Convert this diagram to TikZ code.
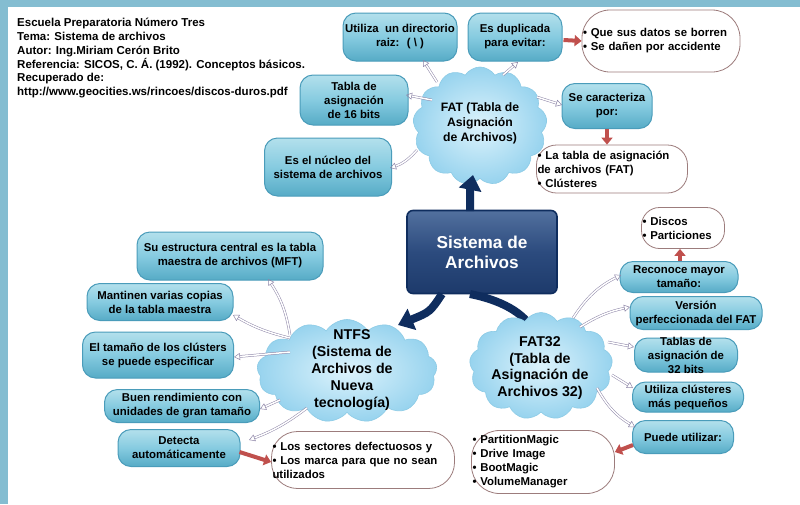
\documentclass[tikz,border=0pt]{standalone}
\usepackage{fontspec}
\setmainfont{Liberation Sans}
\usetikzlibrary{shapes.symbols,arrows.meta,calc}
\definecolor{bandblue}{HTML}{84BDD1}
\definecolor{wmark}{HTML}{F4F8FA}
\definecolor{boxtop}{HTML}{B3E0EC}
\definecolor{boxmid}{HTML}{86CBE0}
\definecolor{boxbot}{HTML}{56ABC6}
\definecolor{boxline}{HTML}{4A9CBA}
\definecolor{cloudin}{HTML}{DDF3FC}
\definecolor{cloudout}{HTML}{97D3EE}
\definecolor{cloudline}{HTML}{8CCBE6}
\definecolor{listline}{HTML}{9C7C7C}
\definecolor{connc}{HTML}{8E86A8}
\definecolor{redarr}{HTML}{C0504D}
\definecolor{navyarr}{HTML}{0F2D5E}
\definecolor{navytop}{HTML}{52709E}
\definecolor{navymid}{HTML}{2C4B7E}
\definecolor{navybot}{HTML}{1D3A6B}
\newcommand\fnthdr{\fontsize{11.5}{13.8}\selectfont\bfseries}
\newcommand\fntbox{\fontsize{11.4}{14}\selectfont\bfseries}
\newcommand\fntcloudA{\fontsize{12.2}{15}\selectfont\bfseries}
\newcommand\fntcloudB{\fontsize{14.2}{16.8}\selectfont\bfseries}
\newcommand\fntbig{\fontsize{17.2}{20}\selectfont\bfseries}
\newcommand\mybul{•\ }
\begin{document}
\begin{tikzpicture}[x=1pt,y=-1pt,
  bluebox/.style={rounded corners=13pt, draw=boxline, line width=1pt,
    top color=boxtop, bottom color=boxbot, middle color=boxmid,
    align=center, font=\fntbox, inner sep=1pt},
  boxtxt/.style={align=center, font=\fntbox, inner sep=0pt},
  listbox/.style={rounded corners=18pt, draw=listline, line width=0.8pt,
    fill=white, align=left, font=\fntbox, inner xsep=1pt, inner ysep=2pt},
  cloudst/.style={cloud, cloud puffs=13, cloud puff arc=115,
    draw=cloudline, line width=0.6pt, inner color=cloudin, outer color=cloudout},
  cloudtxt/.style={align=center, inner sep=0pt},
  sisst/.style={rounded corners=6pt, draw=navyarr, line width=1.6pt,
    top color=navytop, bottom color=navybot, middle color=navymid,
    text=white, font=\fntbig, align=center, minimum width=150, minimum height=83},
  conn/.style={draw=connc, line width=0.5pt, double=white, double distance=1.5pt,
    -{Triangle[open,length=6pt,width=7pt]}},
  redconn/.style={draw=redarr, line width=4pt, -{Triangle[length=7pt,width=11pt]}},
  navyconn/.style={draw=navyarr, line width=8pt, -{Triangle[length=15pt,width=22pt]}}
]
\useasboundingbox (0,0) rectangle (800,504);
\fill[white] (0,0) rectangle (800,504);
% faint watermark
\draw[wmark, line width=22pt] (40,520) arc[start angle=180, end angle=60, radius=150];
\draw[wmark, line width=14pt] (110,520) arc[start angle=180, end angle=70, radius=90];
\fill[bandblue] (0,0) rectangle (800,7);
\fill[bandblue] (0,0) rectangle (8,504);

% header
\node[anchor=north west, align=left, font=\fnthdr, inner sep=0pt] (hdr) at (17,18)
{Escuela Preparatoria Número Tres\\
Tema: Sistema de archivos\\
Autor: Ing.Miriam Cerón Brito\\
Referencia: SICOS, C. Á. (1992). Conceptos básicos.\\
Recuperado de:\\
http://www.geocities.ws/rincoes/discos-duros.pdf};

% central box
\node[sisst] (sis) at (482,252) {Sistema de\\Archivos};

% navy arrow under the FAT32 cloud
\draw[navyconn] ($(sis)+(-12,42)$) .. controls ($(sis)+(18,48)$) and ($(sis)+(42,60)$) .. ($(sis)+(58,92)$);

% clouds
\node[cloudst, minimum width=134, minimum height=118] (fatc) at (480,126) {};
\node[cloudst, minimum width=180, minimum height=103] (ntfsc) at (347,371) {};
\node[cloudst, minimum width=143, minimum height=107] (fat32c) at (541,366) {};
\node[cloudtxt, font=\fntcloudA] (fatt) at (480,123) {FAT (Tabla de\\Asignación\\de Archivos)};
\node[cloudtxt, font=\fntcloudB] (ntfst) at (352,370) {NTFS\\(Sistema de\\Archivos de\\Nueva\\tecnología)};
\node[cloudtxt, font=\fntcloudB] (fat32t) at (540,368) {FAT32\\(Tabla de\\Asignación de\\Archivos 32)};

% navy arrows
\coordinate (ntip) at (398,325);
\draw[navyconn] ($(sis)+(-12,-41)$) .. controls ($(sis)+(-12,-62)$) .. ($(fatc)+(-7,49)$);
\draw[navyconn] ($(sis)+(-40,42)$) .. controls ($(sis)+(-52,60)$) .. (ntip);

% FAT boxes
\node[bluebox, minimum width=114, minimum height=48] (util) at (400,37) {Utiliza \ un directorio\\raiz: \ ( \textbackslash\ )};
\node[bluebox, minimum width=94, minimum height=48] (dup) at (515,37) {Es duplicada\\para evitar:};
\node[listbox, rounded corners=28pt, text width=156, minimum height=62] (dupl) at (661,41) {\mybul Que sus datos se borren\\\mybul Se dañen por accidente};
\node[bluebox, minimum width=108, minimum height=50] (tab16) at (354,100) {};
\node[boxtxt] (tab16t) at (354,100) {Tabla de\\asignación\\de 16 bits};
\node[bluebox, minimum width=90, minimum height=45] (carac) at (607,106) {Se caracteriza\\por:};
\node[listbox, rounded corners=20pt, text width=149, minimum height=48] (caracl) at (612,169) {\mybul La tabla de asignación\\de archivos (FAT)\\\mybul Clústeres};
\node[bluebox, minimum width=127, minimum height=58] (nucleo) at (328,167) {Es el núcleo del\\sistema de archivos};

% NTFS boxes
\node[bluebox, minimum width=186, minimum height=48] (mft) at (230,256) {Su estructura central es la tabla\\maestra de archivos (MFT)};
\node[bluebox, minimum width=146, minimum height=37] (mant) at (160,302) {Mantinen varias copias\\de la tabla maestra};
\node[bluebox, minimum width=151, minimum height=46] (tam) at (158,355) {El tamaño de los clústers\\se puede especificar};
\node[bluebox, minimum width=155, minimum height=33] (buen) at (182,406) {};
\node[boxtxt] (buent) at (182,406) {Buen rendimiento con\\unidades de gran tamaño};
\node[bluebox, minimum width=122, minimum height=37] (detec) at (179,448) {Detecta\\automáticamente};
\node[listbox, rounded corners=26pt, text width=181, minimum height=57] (detl) at (363,460) {\mybul Los sectores defectuosos y\\\mybul Los marca para que no sean\\utilizados};

% FAT32 boxes
\node[listbox, rounded corners=18pt, text width=81, minimum height=41] (discos) at (683,228) {\mybul Discos\\\mybul Particiones};
\node[bluebox, minimum width=118, minimum height=31] (recon) at (679,277) {};
\node[boxtxt] (recont) at (679,277) {Reconoce mayor\\tamaño:};
\node[bluebox, minimum width=132, minimum height=33] (vers) at (696,313) {};
\node[boxtxt] (verst) at (696,313) {Versión\\perfeccionada del FAT};
\node[bluebox, minimum width=103, minimum height=34] (tab32) at (686,355) {};
\node[boxtxt] (tab32t) at (686,355) {Tablas de\\asignación de\\32 bits};
\node[bluebox, minimum width=111, minimum height=30] (clus) at (688,397) {};
\node[boxtxt] (clust) at (688,397) {Utiliza clústeres\\más pequeños};
\node[bluebox, minimum width=101, minimum height=33] (puede) at (683,437) {Puede utilizar:};
\node[listbox, rounded corners=28pt, text width=141, minimum height=63] (progl) at (543,462) {\mybul PartitionMagic\\\mybul Drive Image\\\mybul BootMagic\\\mybul VolumeManager};

% connectors from FAT
\draw[conn] ($(fatc)+(-43,-44)$) -- ($(util)+(23,23)$);
\draw[conn] ($(fatc)+(23,-51)$) -- ($(dup)+(3,25)$);
\draw[conn] ($(fatc)+(-48,-26)$) -- ($(tab16)+(52,-5)$);
\draw[conn] ($(fatc)+(57,-29)$) -- ($(carac)+(-45,-1)$);
\draw[conn] ($(fatc)+(-63,24)$) to[bend left=15] ($(nucleo)+(62,1)$);

% connectors from NTFS
\draw[conn] ($(ntfsc)+(-57,-36)$) to[bend right=12] ($(mft)+(38,23)$);
\draw[conn] ($(ntfsc)+(-57,-33)$) to[bend left=8] ($(mant)+(73,13)$);
\draw[conn] ($(ntfsc)+(-57,-19)$) -- ($(tam)+(76,2)$);
\draw[conn] ($(ntfsc)+(-67,29)$) -- ($(buen)+(78,3)$);
\draw[conn] ($(ntfsc)+(-40,37)$) to[bend left=8] ($(detec)+(70,-8)$);

% connectors from FAT32
\draw[conn] ($(fat32c)+(32,-48)$) to[bend left=15] ($(recon)+(-58,-2)$);
\draw[conn] ($(fat32c)+(39,-39)$) to[bend left=10] ($(vers)+(-66,-6)$);
\draw[conn] ($(fat32c)+(67,-24)$) -- ($(tab32)+(-52,-8)$);
\draw[conn] ($(fat32c)+(71,9)$) -- ($(clus)+(-55,-9)$);
\draw[conn] ($(fat32c)+(56,22)$) to[bend right=15] ($(puede)+(-48,-10)$);

% red arrows
\draw[redconn] ($(dup.east)+(1,3)$) -- (dupl.west);
\draw[redconn] (carac.south) -- ($(caracl.north)+(-5,0)$);
\draw[redconn] ($(detec.east)+(-1,4)$) -- ($(detl.west)+(0,2)$);
\draw[redconn] ($(recon.north)+(1,0)$) -- ($(discos.south)+(-3,0)$);
\draw[redconn] ($(puede.west)+(1,8)$) -- ($(progl.east)+(0,-10)$);
\end{tikzpicture}
\end{document}
